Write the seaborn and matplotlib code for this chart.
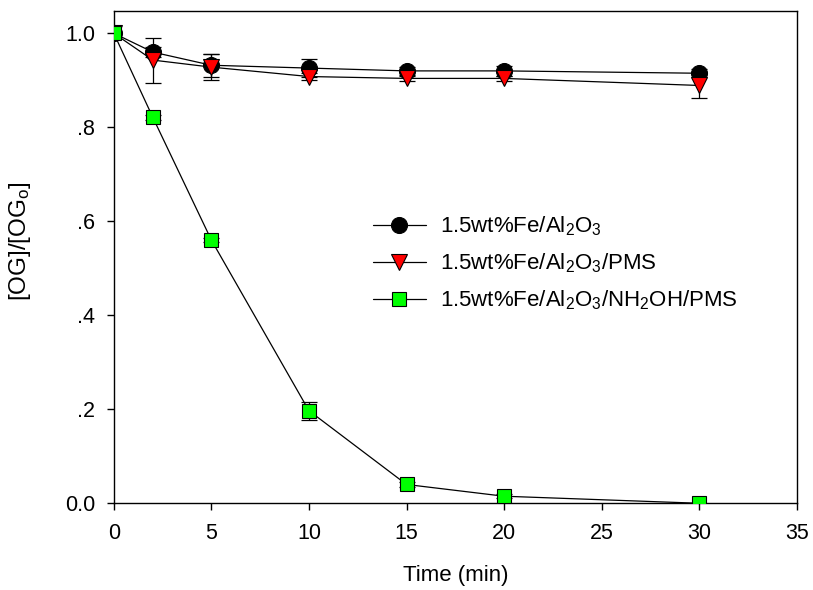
import matplotlib
matplotlib.use("Agg")
import matplotlib.pyplot as plt
import seaborn as sns
import pandas as pd

time_min = [0, 2, 5, 10, 15, 20, 30]
fe_al2o3 = [1.0, 0.960, 0.932, 0.926, 0.920, 0.920, 0.915]
fe_al2o3_err = [0.0, 0.010, 0.025, 0.020, 0.008, 0.010, 0.008]
fe_pms = [1.0, 0.943, 0.928, 0.908, 0.904, 0.904, 0.889]
fe_pms_err = [0.0, 0.048, 0.028, 0.008, 0.006, 0.006, 0.027]
fe_nh2oh_pms = [1.0, 0.821, 0.560, 0.197, 0.040, 0.015, 0.0]
fe_nh2oh_pms_err = [0.0, 0.005, 0.005, 0.019, 0.005, 0.004, 0.0]

labels = [r'1.5wt%Fe/Al$_\mathregular{2}$O$_\mathregular{3}$',
          r'1.5wt%Fe/Al$_\mathregular{2}$O$_\mathregular{3}$/PMS',
          r'1.5wt%Fe/Al$_\mathregular{2}$O$_\mathregular{3}$/NH$_\mathregular{2}$OH/PMS']
series = [fe_al2o3, fe_pms, fe_nh2oh_pms]
errors = [fe_al2o3_err, fe_pms_err, fe_nh2oh_pms_err]
markers = ['o', 'v', 's']
colors = ['#000000', '#ff0000', '#00ff00']
msizes = [11.5, 11.5, 10]

x_ticks = [0, 5, 10, 15, 20, 25, 30, 35]
y_ticks = [0.0, 0.2, 0.4, 0.6, 0.8, 1.0]
y_ticklabels = ['0.0', '.2', '.4', '.6', '.8', '1.0']

sns.set_theme(style='ticks')
plt.rcParams['font.family'] = ['Liberation Sans', 'DejaVu Sans']
plt.rcParams['mathtext.fontset'] = 'custom'
plt.rcParams['mathtext.rm'] = 'Liberation Sans'
plt.rcParams['text.color'] = 'black'
plt.rcParams['axes.labelcolor'] = 'black'

fig = plt.figure(figsize=(8.13, 5.9), dpi=100)
ax = fig.add_axes([0.140, 0.147, 0.840, 0.834])

for i, (lab, vals, errs) in enumerate(zip(labels, series, errors)):
    df = pd.DataFrame({'t': time_min, 'v': vals, 'e': errs})
    de = df[df['e'] > 0]
    ax.errorbar(de['t'], de['v'], yerr=de['e'], fmt='none', ecolor='black',
                elinewidth=0.9, capsize=6, capthick=0.9, zorder=1.5)
    sns.lineplot(data=df, x='t', y='v', ax=ax, color='black', linewidth=0.9,
                 marker=markers[i], markersize=msizes[i],
                 markerfacecolor=colors[i], markeredgecolor='black',
                 markeredgewidth=0.8, label=lab, zorder=3 + i)

ax.set_xlim(0, 35)
ax.set_ylim(0, 1.047)
ax.set_xticks(x_ticks)
ax.set_xticklabels([str(v) for v in x_ticks])
ax.set_yticks(y_ticks)
ax.set_yticklabels(y_ticklabels)
ax.tick_params(axis='both', direction='out', length=5, width=1, labelsize=15.5,
               colors='black', labelcolor='black')
ax.tick_params(axis='x', pad=9.4)
ax.tick_params(axis='y', pad=8.6)
for s in ax.spines.values():
    s.set_visible(True)
    s.set_color('black')
    s.set_linewidth(1.0)

ax.set_xlabel('Time (min)', fontsize=16, color='black')
ax.xaxis.set_label_coords(0.5, -0.126)
ax.set_ylabel(r'$\mathregular{[OG]/[OG_o]}$', fontsize=17.5, color='black')
ax.yaxis.set_label_coords(-0.1186, 0.5325)

leg = ax.legend(loc='center left', bbox_to_anchor=(0.379, 0.488),
                frameon=False, fontsize=16, borderaxespad=0, borderpad=0,
                handlelength=2.4, handletextpad=0.65, labelspacing=0.6)
for t in leg.get_texts():
    t.set_color('black')

fig.savefig('out.png', dpi=100)
